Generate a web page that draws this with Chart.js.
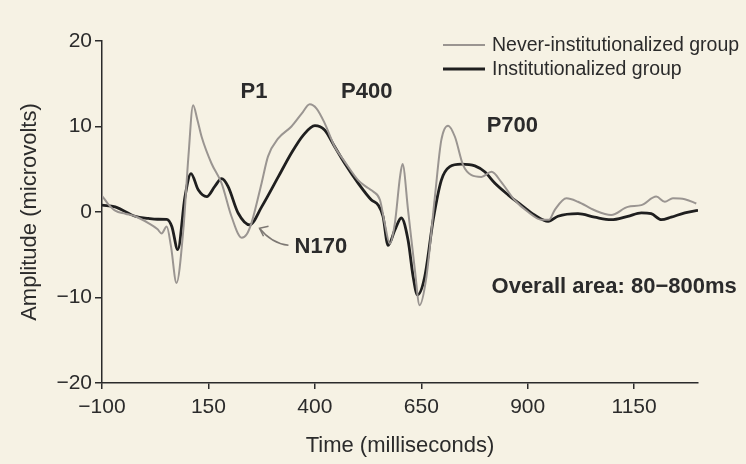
<!DOCTYPE html>
<html>
<head>
<meta charset="utf-8">
<script src="https://cdn.jsdelivr.net/npm/chart.js@4"></script>
<style>
  html, body { margin: 0; padding: 0; background: #f6f2e4; }
  #wrap { width: 746px; height: 464px; }
</style>
</head>
<body>
<div id="wrap"><canvas id="chart" width="746" height="464"></canvas></div>
<script>
// values (time in ms, amplitude in microvolts)
const neverTimes = [-100, -85, -69, -45, -22, 9, 30, 40, 52, 62, 75, 91, 103, 114, 124, 134, 157, 181, 204, 228, 240, 251, 275, 290, 314, 345, 369, 388, 404, 423, 447, 470, 502, 525, 537, 553, 564, 576, 588, 600, 606, 619, 635, 646, 662, 682, 697, 713, 729, 748, 768, 791, 815, 838, 869, 901, 932, 950, 963, 991, 1018, 1057, 1096, 1135, 1167, 1202, 1222, 1241, 1269, 1296];
const neverValues = [1.9, 0.9, 0.15, -0.2, -0.5, -1.3, -2.0, -2.5, -1.7, -4.0, -8.3, -2.1, 6.5, 12.5, 10.8, 8.8, 5.7, 3.35, -0.5, -3.0, -2.6, -1.3, 3.4, 6.5, 8.6, 10.0, 11.5, 12.6, 12.1, 10.4, 7.6, 5.9, 3.7, 2.8, 2.4, 1.4, -1.3, -3.7, -1.3, 4.1, 5.6, 0.2, -6.8, -10.9, -7.6, 1.8, 8.4, 10.1, 8.8, 5.5, 4.3, 4.1, 4.7, 3.5, 1.4, 0.0, -0.9, -0.9, 0.2, 1.6, 1.2, 0.2, -0.35, 0.6, 0.8, 1.8, 1.2, 1.6, 1.5, 1.0];

const instTimes = [-100, -69, -22, 9, 30, 52, 64, 78, 95, 109, 126, 146, 165, 181, 196, 220, 247, 275, 314, 345, 373, 400, 423, 447, 470, 502, 533, 549, 560, 572, 588, 603, 619, 631, 641, 658, 678, 697, 717, 744, 776, 799, 823, 854, 885, 916, 948, 971, 1018, 1057, 1096, 1135, 1167, 1190, 1214, 1237, 1269, 1300];
const instValues = [0.8, 0.6, -0.5, -0.75, -0.85, -0.86, -1.7, -4.4, 1.8, 4.5, 2.6, 1.8, 3.0, 3.9, 3.0, -0.15, -1.5, 0.6, 4.1, 6.9, 9.0, 10.1, 9.6, 7.6, 5.7, 3.35, 1.4, 0.8, -0.5, -3.9, -2.1, -0.7, -3.3, -7.6, -9.7, -7.6, -0.9, 3.7, 5.3, 5.6, 5.4, 4.7, 3.35, 2.0, 0.8, -0.35, -1.1, -0.5, -0.2, -0.6, -0.9, -0.5, -0.1, -0.2, -0.9, -0.6, -0.1, 0.2];

const seriesNames = ["Never-institutionalized group", "Institutionalized group"];
const xTicks = [-100, 150, 400, 650, 900, 1150];
const yTicks = [-20, -10, 0, 10, 20];

const FONT = "'Liberation Sans', Arial, Helvetica, sans-serif";
const INK = "#2b2b2b";
const GRAY = "#9a9591";
const DARK = "#1f1f1f";

const toPoints = (xs, ys) => xs.map((x, i) => ({ x: x, y: ys[i] }));
const minus = (v) => String(v).replace("-", "\u2212");

// legend drawn in the top right corner, two stacked rows
const legendPlugin = {
  id: "stackedLegend",
  afterDraw(chart) {
    const c = chart.ctx;
    c.save();
    c.font = "19.5px " + FONT;
    c.textBaseline = "middle";
    chart.data.datasets.forEach((ds, i) => {
      const y = 45 + i * 24;
      c.strokeStyle = ds.borderColor;
      c.lineWidth = ds.borderWidth;
      c.beginPath();
      c.moveTo(443, y);
      c.lineTo(485, y);
      c.stroke();
      c.fillStyle = INK;
      c.fillText(ds.label, 492, y + 1);
    });
    c.restore();
  }
};

// component labels + arrow for N170
const notesPlugin = {
  id: "notes",
  afterDatasetsDraw(chart) {
    const c = chart.ctx;
    const xs = chart.scales.x, ys = chart.scales.y;
    const notes = [
      { t: "P1", x: 257, y: 14.0, align: "center" },
      { t: "P400", x: 522, y: 14.0, align: "center" },
      { t: "P700", x: 864, y: 10.1, align: "center" },
      { t: "N170", x: 414, y: -4.1, align: "center" },
      { t: "Overall area: 80\u2212800ms", x: 815, y: -8.8, align: "left" }
    ];
    c.save();
    c.fillStyle = INK;
    c.font = "bold 22px " + FONT;
    c.textBaseline = "middle";
    notes.forEach((n) => {
      c.textAlign = n.align;
      c.fillText(n.t, xs.getPixelForValue(n.x), ys.getPixelForValue(n.y));
    });
    // arrow from N170 label to the trough
    const x0 = xs.getPixelForValue(338), y0 = ys.getPixelForValue(-3.9);
    const x1 = xs.getPixelForValue(270), y1 = ys.getPixelForValue(-1.9);
    c.strokeStyle = "#7d7873";
    c.lineWidth = 1.5;
    c.beginPath();
    c.moveTo(x0, y0);
    c.quadraticCurveTo(x1 + 12, y0 - 2, x1, y1);
    c.stroke();
    c.beginPath();
    c.moveTo(x1 + 9, y1 - 2);
    c.lineTo(x1, y1);
    c.lineTo(x1 + 4, y1 + 8);
    c.stroke();
    c.restore();
  }
};

const config = {
  type: "line",
  data: {
    datasets: [
      {
        label: seriesNames[0],
        data: toPoints(neverTimes, neverValues),
        borderColor: GRAY,
        borderWidth: 2,
        pointRadius: 0,
        cubicInterpolationMode: "monotone"
      },
      {
        label: seriesNames[1],
        data: toPoints(instTimes, instValues),
        borderColor: DARK,
        borderWidth: 2.8,
        pointRadius: 0,
        cubicInterpolationMode: "monotone"
      }
    ]
  },
  options: {
    responsive: false,
    animation: false,
    layout: { padding: { top: 41, right: 48, left: 0, bottom: 0 } },
    plugins: { legend: { display: false }, tooltip: { enabled: false } },
    scales: {
      x: {
        type: "linear",
        min: -100,
        max: 1300,
        afterBuildTicks: (s) => { s.ticks = xTicks.map((v) => ({ value: v })); },
        afterFit: (s) => { s.height = 81; },
        grid: { drawOnChartArea: false, tickLength: 6, color: INK, lineWidth: 1.5 },
        border: { color: INK, width: 1.5 },
        ticks: {
          padding: 6,
          color: INK,
          font: { family: FONT, size: 21 },
          maxRotation: 0,
          callback: (v) => minus(v)
        },
        title: {
          display: true,
          text: "Time (milliseconds)",
          color: INK,
          font: { family: FONT, size: 22 },
          padding: { top: 0, bottom: 5 }
        }
      },
      y: {
        min: -20,
        max: 20,
        afterBuildTicks: (s) => { s.ticks = yTicks.map((v) => ({ value: v })); },
        afterFit: (s) => { s.width = 102; },
        grid: { drawOnChartArea: false, tickLength: 7, color: INK, lineWidth: 1.5 },
        border: { color: INK, width: 1.5 },
        ticks: {
          padding: 3,
          color: INK,
          font: { family: FONT, size: 21 },
          callback: (v) => minus(v)
        },
        title: {
          display: true,
          text: "Amplitude (microvolts)",
          color: INK,
          font: { family: FONT, size: 22 },
          padding: { top: 17, bottom: 0 }
        }
      }
    }
  },
  plugins: [notesPlugin, legendPlugin]
};

new Chart(document.getElementById("chart"), config);
</script>
</body>
</html>
